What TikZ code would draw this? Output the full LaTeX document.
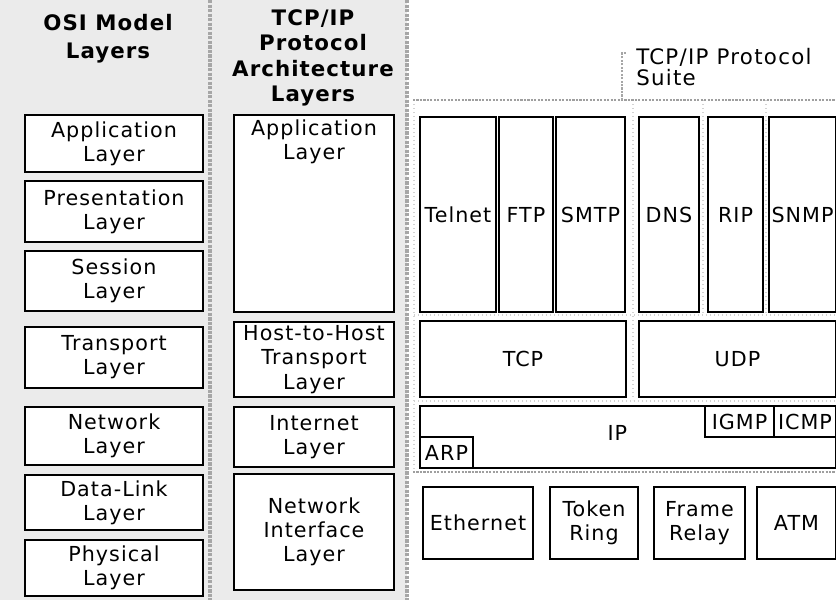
\documentclass[tikz,border=0pt]{standalone}
\usepackage{fontspec}
\setmainfont{DejaVu Sans}[LetterSpace=5]

% a framed layer box given by its corners (x1,y1) (x2,y2) in pixel units
\newcommand\layerbox[7][]{%
  \node[lay,#1,minimum width={(#5-#3)*0.75pt},minimum height={(#6-#4)*0.75pt}]
    (#2) at ({(#3+#5)/2},{(#4+#6)/2}) {#7};}

\begin{document}
\begin{tikzpicture}[x=0.75pt,y=-0.75pt,
  lay/.style={draw=black, line width=1.5pt, fill=white, inner sep=0pt,
              align=center, font=\fontsize{15.5}{18}\selectfont},
  thinbox/.style={line width=1pt},
  head/.style={align=center, font=\bfseries\fontsize{16}{21}\selectfont},
  colsep/.style={draw=gray!70, line width=2.4pt, densely dotted},
  rowsep/.style={draw=gray!75, line width=1.6pt, densely dotted},
  faintsep/.style={draw=gray!35, line width=1pt, dotted},
  bracket/.style={draw=gray!70, line width=1.6pt, densely dotted}]

\useasboundingbox (0,0) rectangle (836,600);

% shaded background of the two layer columns
\fill[gray!16] (0,0) rectangle (407,600);

% column separators
\draw[colsep] (210,0) -- (210,600);
\draw[colsep] (407,0) -- (407,600);

% column headings
\node[head] (osihead) at (108,39) {OSI Model\\Layers};
\node[head, font=\bfseries\fontsize{16}{19}\selectfont] (archhead) at (313,58)
  {TCP/IP\\Protocol\\Architecture\\Layers};

% OSI model layers
\layerbox{osiapp}{25}{115}{203}{172}{Application\\Layer}
\layerbox{osipres}{25}{181}{203}{242}{Presentation\\Layer}
\layerbox{osisess}{25}{251}{203}{311}{Session\\Layer}
\layerbox{ositrans}{25}{327}{203}{388}{Transport\\Layer}
\layerbox{osinet}{25}{407}{203}{465}{Network\\Layer}
\layerbox{osidl}{25}{475}{203}{530}{Data-Link\\Layer}
\layerbox{osiphys}{25}{540}{203}{596}{Physical\\Layer}

% TCP/IP architecture layers
\layerbox{archapp}{234}{115}{394}{312}{}
\node[anchor=north, align=center, font=\fontsize{15.5}{18}\selectfont,
      inner sep=0pt] (archapptext) at ([yshift=-4pt]archapp.north) {Application\\Layer};
\layerbox[font=\fontsize{15.5}{18.5}\selectfont]{archhost}{234}{322}{394}{397}{Host-to-Host\\Transport\\Layer}
\layerbox{archinet}{234}{407}{394}{467}{Internet\\Layer}
\layerbox{archnif}{234}{474}{394}{590}{Network\\Interface\\Layer}

% protocol suite rows: separators
\draw[faintsep] (414,100) -- (414,472);
\draw[faintsep] (633,100) -- (633,400);
\draw[faintsep] (703,100) -- (703,315);
\draw[faintsep] (766,100) -- (766,315);
\draw[faintsep] (414,315) -- (836,315);
\draw[faintsep] (414,401) -- (836,401);
\draw[rowsep] (413,100) -- (836,100);
\draw[rowsep] (413,472) -- (836,472);

% suite label with its bracket
\node[anchor=west, align=left, inner sep=0pt,
      font=\addfontfeatures{LetterSpace=6}\fontsize{16}{16}\selectfont] (suite) at (636,67)
  {TCP/IP Protocol\\Suite};
\coordinate (brk) at (622,100);
\draw[bracket] (brk) -- (622,53) -- (627,53);

% application protocols
\layerbox{telnet}{420}{117}{496}{312}{Telnet}
\layerbox{ftp}{499}{117}{553}{312}{FTP}
\layerbox{smtp}{556}{117}{625}{312}{SMTP}
\layerbox{dns}{639}{117}{699}{312}{DNS}
\layerbox{rip}{708}{117}{763}{312}{RIP}
\layerbox{snmp}{769}{117}{836}{312}{SNMP}

% transport protocols
\layerbox{tcp}{420}{321}{626}{397}{TCP}
\layerbox{udp}{639}{321}{836}{397}{UDP}

% internet protocols
\layerbox{ip}{420}{406}{836}{468}{}
\node[inner sep=0pt, font=\fontsize{15.5}{18}\selectfont] (iptext)
  at ([xshift=-8pt,yshift=3pt]ip.center) {IP};
\layerbox[thinbox]{igmp}{705}{406}{774}{437}{IGMP}
\layerbox[thinbox]{icmp}{774}{406}{836}{437}{ICMP}
\layerbox[thinbox]{arp}{420}{437}{473}{468}{ARP}

% network interface technologies
\layerbox{ether}{423}{487}{533}{559}{Ethernet}
\layerbox{token}{550}{487}{638}{559}{Token\\Ring}
\layerbox{frame}{654}{487}{745}{559}{Frame\\Relay}
\layerbox{atm}{757}{487}{836}{559}{ATM}

\end{tikzpicture}
\end{document}
